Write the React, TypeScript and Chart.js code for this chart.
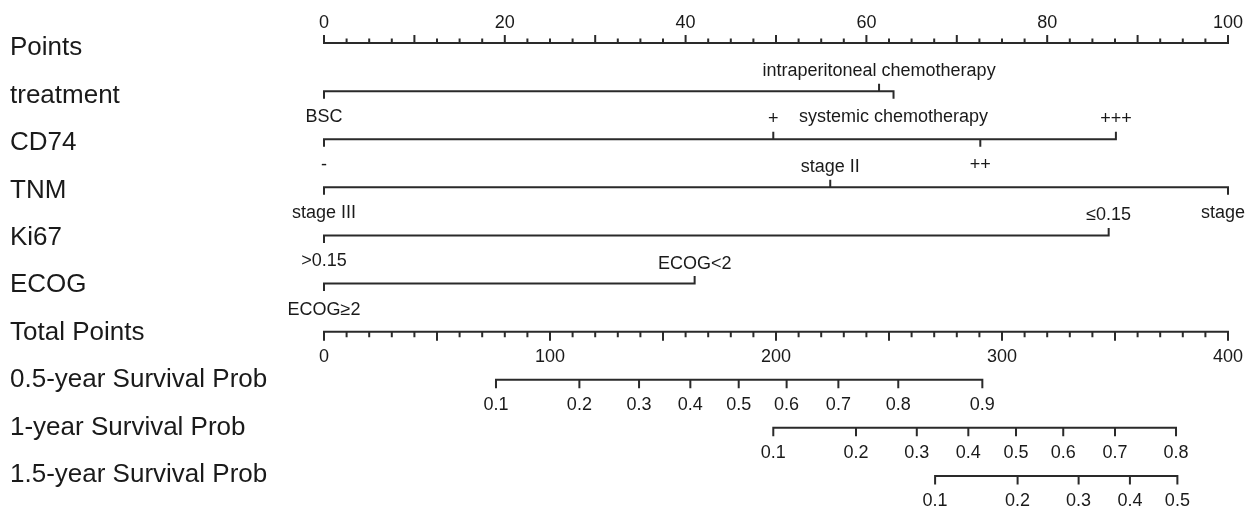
import React, { useEffect, useRef } from 'react';
import { Chart, registerables } from 'chart.js';

Chart.register(...registerables);

// ---------- data ----------
const rowNames = [
  'Points',
  'treatment',
  'CD74',
  'TNM',
  'Ki67',
  'ECOG',
  'Total Points',
  '0.5-year Survival Prob',
  '1-year Survival Prob',
  '1.5-year Survival Prob',
];

// Points axis (0-100)
const pointsTickLabels = [0, 20, 40, 60, 80, 100];
const pointsMajorTicks = [0, 10, 20, 30, 40, 50, 60, 70, 80, 90, 100];
const pointsMinorTicks = [
  2.5, 5, 7.5, 12.5, 15, 17.5, 22.5, 25, 27.5, 32.5, 35, 37.5, 42.5, 45, 47.5,
  52.5, 55, 57.5, 62.5, 65, 67.5, 72.5, 75, 77.5, 82.5, 85, 87.5, 92.5, 95, 97.5,
];

// predictor levels and their points
const treatmentLevels = ['BSC', 'intraperitoneal chemotherapy', 'systemic chemotherapy'];
const treatmentPoints = [0, 61.4, 63.0];
const cd74Levels = ['-', '+', '++', '+++'];
const cd74Points = [0, 49.7, 72.6, 87.6];
const tnmLevels = ['stage III', 'stage II', 'stage I'];
const tnmPoints = [0, 56.0, 100];
const ki67Levels = ['>0.15', '≤0.15'];
const ki67Points = [0, 86.8];
const ecogLevels = ['ECOG≥2', 'ECOG<2'];
const ecogPoints = [0, 41.0];

// Total points axis (0-400)
const totalTickLabels = [0, 100, 200, 300, 400];
const totalMajorTicks = [0, 50, 100, 150, 200, 250, 300, 350, 400];
const totalMinorTicks = [
  10, 20, 30, 40, 60, 70, 80, 90, 110, 120, 130, 140, 160, 170, 180, 190,
  210, 220, 230, 240, 260, 270, 280, 290, 310, 320, 330, 340, 360, 370, 380, 390,
];

// survival probability axes: probability label -> total points position
const surv05Probs = ['0.1', '0.2', '0.3', '0.4', '0.5', '0.6', '0.7', '0.8', '0.9'];
const surv05Total = [76.1, 113.0, 139.4, 162.1, 183.5, 204.7, 227.6, 254.1, 291.3];
const surv1Probs = ['0.1', '0.2', '0.3', '0.4', '0.5', '0.6', '0.7', '0.8'];
const surv1Total = [198.8, 235.4, 262.3, 285.1, 306.2, 327.1, 350.0, 377.0];
const surv15Probs = ['0.1', '0.2', '0.3', '0.4', '0.5'];
const surv15Total = [270.4, 306.9, 333.9, 356.6, 377.6];

// ---------- styles ----------
const FONT = '"Liberation Sans", Arial, sans-serif';
const LINE_COLOR = '#2a2a2a';
const TEXT_COLOR = '#1a1a1a';
const ROW_PX = 48.1;

type Tick = { x: number; dir: number; len: number };

function rowDataset(row: number, axis: string, start: number, end: number, ticks: Tick[]) {
  const data: any[] = [
    { x: start, y: row },
    { x: end, y: row },
    { x: end, y: null },
  ];
  ticks.forEach((t) => {
    data.push({ x: t.x, y: row });
    data.push({ x: t.x, y: row + (t.dir * t.len) / ROW_PX });
    data.push({ x: t.x, y: null });
  });
  return {
    type: 'line',
    data,
    xAxisID: axis,
    yAxisID: 'y',
    borderColor: LINE_COLOR,
    borderWidth: 2,
    borderCapStyle: 'square',
    pointRadius: 0,
    pointHoverRadius: 0,
    spanGaps: false,
    fill: false,
    tension: 0,
    clip: false,
  };
}

const variableRows = [
  { row: 1, levels: treatmentLevels, pts: treatmentPoints },
  { row: 2, levels: cd74Levels, pts: cd74Points },
  { row: 3, levels: tnmLevels, pts: tnmPoints },
  { row: 4, levels: ki67Levels, pts: ki67Points },
  { row: 5, levels: ecogLevels, pts: ecogPoints },
];

const survRows = [
  { row: 7, probs: surv05Probs, total: surv05Total },
  { row: 8, probs: surv1Probs, total: surv1Total },
  { row: 9, probs: surv15Probs, total: surv15Total },
];

function sortedIdx(pts: number[]) {
  return pts.map((_, i) => i).sort((a, b) => pts[a] - pts[b]);
}

function buildDatasets() {
  const ds: any[] = [];
  // Points axis: ticks upward
  ds.push(
    rowDataset(0, 'x', 0, 100, [
      ...pointsMajorTicks.map((v) => ({ x: v, dir: -1, len: 7 })),
      ...pointsMinorTicks.map((v) => ({ x: v, dir: -1, len: 3.5 })),
    ])
  );
  // variable rows: alternate below/above
  variableRows.forEach((vr) => {
    const order = sortedIdx(vr.pts);
    const ticks: Tick[] = order.map((idx, k) => ({ x: vr.pts[idx], dir: k % 2 === 0 ? 1 : -1, len: 6.5 }));
    ds.push(rowDataset(vr.row, 'x', Math.min(...vr.pts), Math.max(...vr.pts), ticks));
  });
  // Total points axis: ticks downward
  ds.push(
    rowDataset(6, 'x2', 0, 400, [
      ...totalMajorTicks.map((v) => ({ x: v, dir: 1, len: 8 })),
      ...totalMinorTicks.map((v) => ({ x: v, dir: 1, len: 4.5 })),
    ])
  );
  survRows.forEach((sr) => {
    ds.push(
      rowDataset(
        sr.row,
        'x2',
        Math.min(...sr.total),
        Math.max(...sr.total),
        sr.total.map((v) => ({ x: v, dir: 1, len: 7.5 }))
      )
    );
  });
  return ds;
}

const textPlugin = {
  id: 'nomogramText',
  afterDatasetsDraw(chart: any) {
    const ctx = chart.ctx as CanvasRenderingContext2D;
    const xs = chart.scales.x;
    const x2 = chart.scales.x2;
    const ys = chart.scales.y;
    ctx.save();
    ctx.fillStyle = TEXT_COLOR;
    ctx.textBaseline = 'middle';

    // row names
    ctx.font = `26px ${FONT}`;
    ctx.textAlign = 'left';
    rowNames.forEach((name, r) => {
      ctx.fillText(name, 10, ys.getPixelForValue(r) + 5 - r * 0.67);
    });

    ctx.font = `18px ${FONT}`;
    ctx.textAlign = 'center';
    const ABOVE = -20;
    const BELOW = 26;

    // Points labels
    pointsTickLabels.forEach((v) => {
      ctx.fillText(String(v), xs.getPixelForValue(v), ys.getPixelForValue(0) + ABOVE);
    });

    // variable rows
    variableRows.forEach((vr) => {
      const order = sortedIdx(vr.pts);
      const yl = ys.getPixelForValue(vr.row);
      order.forEach((idx, k) => {
        const off = k % 2 === 0 ? BELOW : ABOVE;
        ctx.fillText(vr.levels[idx], xs.getPixelForValue(vr.pts[idx]), yl + off);
      });
    });

    // total points
    totalTickLabels.forEach((v) => {
      ctx.fillText(String(v), x2.getPixelForValue(v), ys.getPixelForValue(6) + 25);
    });

    // survival
    survRows.forEach((sr) => {
      const yl = ys.getPixelForValue(sr.row);
      sr.probs.forEach((p, i) => {
        ctx.fillText(p, x2.getPixelForValue(sr.total[i]), yl + 25);
      });
    });
    ctx.restore();
  },
};

export default function App() {
  const ref = useRef<HTMLCanvasElement | null>(null);
  useEffect(() => {
    if (!ref.current) return;
    const chart = new Chart(ref.current, {
      type: 'line',
      data: { datasets: buildDatasets() },
      options: {
        responsive: false,
        animation: false,
        devicePixelRatio: 1,
        layout: { padding: { left: 324, right: 22, top: 19, bottom: 7 } },
        plugins: { legend: { display: false }, tooltip: { enabled: false } },
        events: [],
        scales: {
          x: { type: 'linear', min: 0, max: 100, display: false },
          x2: { type: 'linear', min: 0, max: 400, display: false },
          y: { type: 'linear', min: -0.5, max: 9.5, reverse: true, display: false },
        },
      },
      plugins: [textPlugin],
    } as any);
    return () => chart.destroy();
  }, []);
  return (
    <div style={{ position: 'fixed', left: 0, top: 0, width: 1250, height: 507, background: '#fff', overflow: 'hidden' }}>
      <canvas ref={ref} width={1250} height={507} style={{ display: 'block', width: 1250, height: 507 }} />
    </div>
  );
}
